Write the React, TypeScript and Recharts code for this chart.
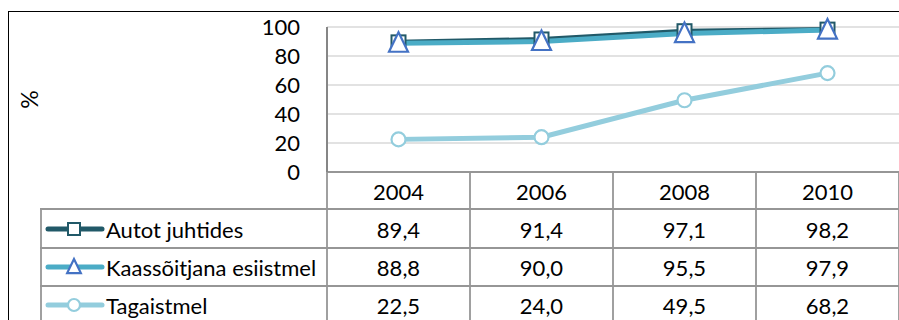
import { LineChart, Line, XAxis, YAxis, CartesianGrid, Legend } from 'recharts';

const years = ['2004', '2006', '2008', '2010'];
const autotJuhtides = [89.4, 91.4, 97.1, 98.2];
const kaassoitjana = [88.8, 90.0, 95.5, 97.9];
const tagaistmel = [22.5, 24.0, 49.5, 68.2];
const seriesNames = ['Autot juhtides', 'Kaassõitjana esiistmel', 'Tagaistmel'];
const yTicks = [0, 20, 40, 60, 80, 100];

const data = years.map((year, i) => ({
  year,
  autot: autotJuhtides[i],
  kaas: kaassoitjana[i],
  taga: tagaistmel[i],
}));
const tableRows = [autotJuhtides, kaassoitjana, tagaistmel];

const FONT = 'Lato, "Open Sans", sans-serif';
const TABLE_FS = 22;
const GRID = '#969696';
const C_AUTOT = '#215968';
const C_KAAS = '#4BACC6';
const C_TRI = '#4472C4';
const C_TAGA = '#93CDDD';

const HALF_COL = 71.5;
const ROW_LINES = [209, 248, 286];
const ROW_CENTERS = [229, 267, 305];

const fmt = (v: number) => v.toFixed(1).replace('.', ',');

const Square = ({ cx, cy, size = 14 }: any) => (
  <rect x={cx - size / 2} y={cy - size / 2} width={size} height={size} fill="#fff" stroke={C_AUTOT} strokeWidth={2} />
);

const Triangle = ({ cx, cy, s = 1 }: any) => (
  <polygon
    points={`${cx},${cy - 11 * s} ${cx - 9.5 * s},${cy + 8.5 * s} ${cx + 9.5 * s},${cy + 8.5 * s}`}
    fill="#fff"
    stroke={C_TRI}
    strokeWidth={2.2}
  />
);

const Circle = ({ cx, cy, radius = 7 }: any) => (
  <circle cx={cx} cy={cy} r={radius} fill="#fff" stroke={C_TAGA} strokeWidth={2.2} />
);

// one column of the data table under each year
const TableTick = ({ x, y, payload, index }: any) => {
  const left = x - HALF_COL;
  const right = x + HALF_COL;
  return (
    <g fontFamily={FONT} fontSize={TABLE_FS} fill="#000">
      <line x1={left} y1={y} x2={left} y2={330} stroke={GRID} strokeWidth={1.8} />
      {index === years.length - 1 && <line x1={right} y1={y} x2={right} y2={330} stroke={GRID} strokeWidth={1.8} />}
      {ROW_LINES.map((ly) => (
        <line key={ly} x1={left} y1={ly} x2={right} y2={ly} stroke={GRID} strokeWidth={1.8} />
      ))}
      <text x={x} y={191} textAnchor="middle" dominantBaseline="central">
        {payload.value}
      </text>
      {tableRows.map((row, r) => (
        <text key={r} x={x} y={ROW_CENTERS[r]} textAnchor="middle" dominantBaseline="central">
          {fmt(row[index])}
        </text>
      ))}
    </g>
  );
};

const LegendTable = ({ payload }: any) => {
  const items = payload || [];
  return (
    <svg width={288} height={120} style={{ display: 'block', overflow: 'visible' }}>
      <line x1={1} y1={0} x2={1} y2={120} stroke={GRID} strokeWidth={1.8} />
      {[0, 39, 77].map((ly) => (
        <line key={ly} x1={0} y1={ly} x2={288} y2={ly} stroke={GRID} strokeWidth={1.8} />
      ))}
      {items.map((item: any, i: number) => {
        const cy = ROW_CENTERS[i] - 209;
        return (
          <g key={item.value}>
            <line x1={8} y1={cy} x2={62} y2={cy} stroke={item.color} strokeWidth={5} strokeLinecap="round" />
            {i === 0 && <Square cx={34} cy={cy} size={12} />}
            {i === 1 && <Triangle cx={34} cy={cy} s={0.72} />}
            {i === 2 && <Circle cx={34} cy={cy} radius={6} />}
            <text x={66} y={cy} dominantBaseline="central" fontFamily={FONT} fontSize={TABLE_FS} fill="#000">
              {item.value}
            </text>
          </g>
        );
      })}
    </svg>
  );
};

const PercentLabel = ({ viewBox }: any) => {
  const x = viewBox.x + 29;
  const y = viewBox.y + viewBox.height / 2;
  return (
    <text x={x} y={y} transform={`rotate(-90, ${x}, ${y})`} textAnchor="middle" dominantBaseline="central" fontFamily={FONT} fontSize={23} fill="#000">
      %
    </text>
  );
};

export default function App() {
  return (
    <div style={{ position: 'fixed', left: 0, top: 0, width: 899, height: 320, overflow: 'hidden', background: '#fff', fontFamily: FONT }}>
      <div style={{ position: 'absolute', left: 8, top: 11, width: 900, height: 400, border: '1.5px solid #000', boxSizing: 'border-box' }} />
      <LineChart width={899} height={320} data={data} margin={{ top: 27, right: 0, left: 0, bottom: 0 }}>
        <CartesianGrid vertical={false} stroke="#D9D9D9" strokeWidth={1.5} />
        <XAxis
          dataKey="year"
          height={148}
          padding={{ left: HALF_COL, right: HALF_COL }}
          axisLine={{ stroke: GRID, strokeWidth: 1.8 }}
          tickLine={false}
          tickSize={0}
          tickMargin={0}
          interval={0}
          tick={<TableTick />}
        />
        <YAxis
          width={327}
          domain={[0, 100]}
          ticks={yTicks}
          interval={0}
          axisLine={{ stroke: '#868686', strokeWidth: 2 }}
          tickLine={false}
          tickSize={0}
          tickMargin={27}
          tick={{ fontSize: 22, fontFamily: FONT, fill: '#000' }}
          label={<PercentLabel />}
        />
        <Legend
          layout="vertical"
          align="center"
          verticalAlign="middle"
          content={<LegendTable />}
          wrapperStyle={{ position: 'absolute', left: 40, top: 209, width: 288, height: 120 }}
        />
        <Line
          name={seriesNames[0]}
          dataKey="autot"
          stroke={C_AUTOT}
          strokeWidth={5}
          dot={<Square />}
          activeDot={false}
          isAnimationActive={false}
        />
        <Line
          name={seriesNames[1]}
          dataKey="kaas"
          stroke={C_KAAS}
          strokeWidth={5}
          dot={<Triangle />}
          activeDot={false}
          isAnimationActive={false}
        />
        <Line
          name={seriesNames[2]}
          dataKey="taga"
          stroke={C_TAGA}
          strokeWidth={5}
          dot={<Circle />}
          activeDot={false}
          isAnimationActive={false}
        />
      </LineChart>
    </div>
  );
}
